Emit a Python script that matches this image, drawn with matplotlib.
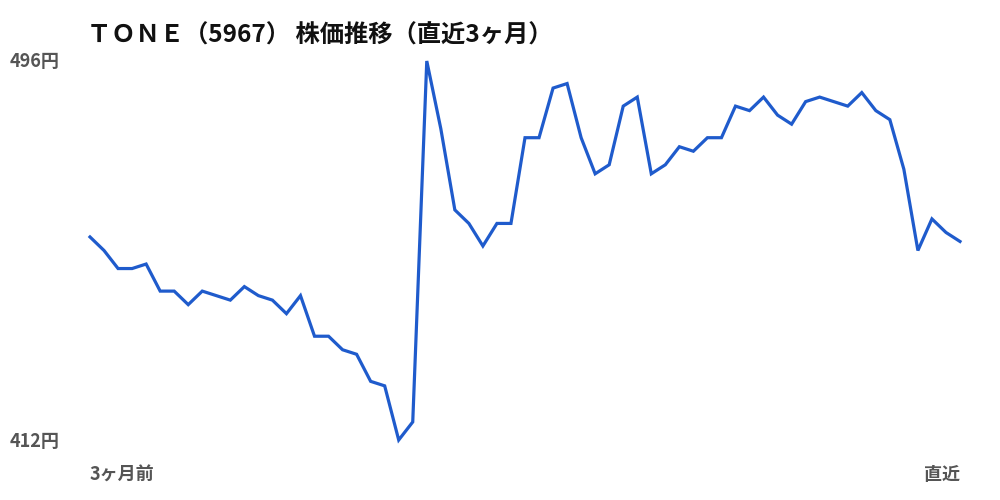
import numpy as np
import matplotlib
matplotlib.use('Agg')
import matplotlib.pyplot as plt

plt.rcParams['font.family'] = ['Noto Sans CJK JP', 'DejaVu Sans']

# daily closes over the last 3 months (yen)
prices = [457, 454, 450, 450, 451, 445, 445, 442, 445, 444,
          443, 446, 444, 443, 440, 444, 435, 435, 432, 431,
          425, 424, 412, 416, 496, 481, 463, 460, 455, 460,
          460, 479, 479, 490, 491, 479, 471, 473, 486, 488,
          471, 473, 477, 476, 479, 479, 486, 485, 488, 484,
          482, 487, 488, 487, 486, 489, 485, 483, 472, 454,
          461, 458, 456]
title = 'ＴＯＮＥ（5967） 株価推移（直近3ヶ月）'
x_labels = ['3ヶ月前', '直近']
y_min, y_max = min(prices), max(prices)

fig = plt.figure(figsize=(10, 5), dpi=100)
ax = fig.add_axes([0.09, 0.12, 0.87, 0.758])

days = np.arange(len(prices))
ax.plot(days, prices, color='#1f5bcc', lw=2.3, clip_on=False, solid_joinstyle='miter')
ax.set_xlim(0, len(prices) - 1)
ax.set_ylim(y_min, y_max)
ax.axis('off')

grey = '#555555'
fig.text(0.01, 0.877, f'{y_max}円', fontsize=13, fontweight='bold', color=grey, va='center', ha='left')
fig.text(0.01, 0.117, f'{y_min}円', fontsize=13, fontweight='bold', color=grey, va='center', ha='left')
fig.text(0.09, 0.05, x_labels[0], fontsize=13, fontweight='bold', color=grey, va='center', ha='left')
fig.text(0.96, 0.05, x_labels[1], fontsize=13, fontweight='bold', color=grey, va='center', ha='right')
fig.text(0.087, 0.928, title, fontsize=17.5, fontweight='bold', color='#111111', va='center', ha='left')

fig.savefig('out.png', dpi=100)
